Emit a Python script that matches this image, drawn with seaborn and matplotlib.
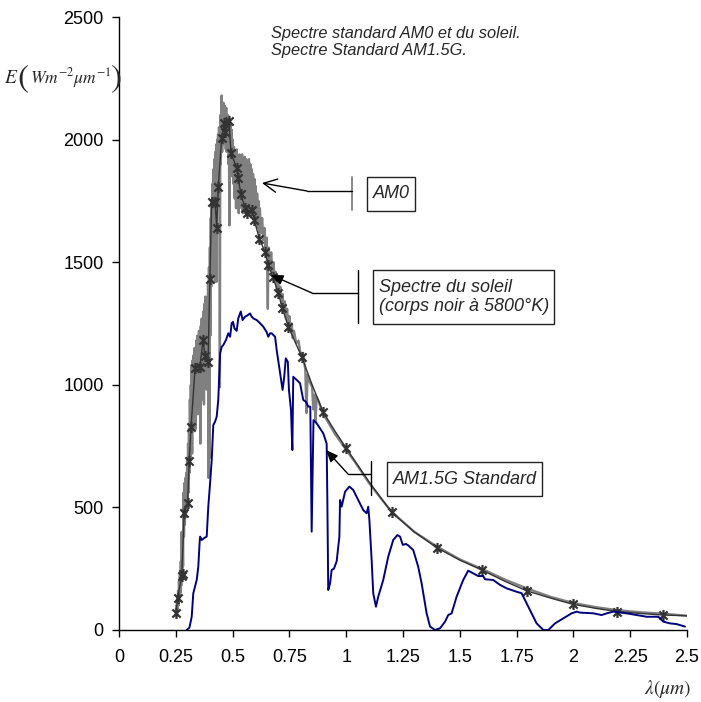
import matplotlib
matplotlib.use("Agg")
import matplotlib.pyplot as plt
import seaborn as sns
from matplotlib.path import Path
from matplotlib.patches import Rectangle, FancyArrowPatch
from matplotlib.lines import Line2D

# ---------------- data ----------------
am0_x = [0.250, 0.252, 0.254, 0.256, 0.258, 0.260, 0.262, 0.264, 0.266, 0.268,
         0.270, 0.272, 0.274, 0.276, 0.278, 0.280, 0.282, 0.284, 0.286, 0.288,
         0.290, 0.292, 0.294, 0.296, 0.298, 0.300, 0.302, 0.304, 0.306, 0.308,
         0.310, 0.312, 0.314, 0.316, 0.318, 0.320, 0.322, 0.324, 0.326, 0.328,
         0.330, 0.332, 0.334, 0.336, 0.338, 0.340, 0.342, 0.344, 0.346, 0.348,
         0.350, 0.352, 0.354, 0.356, 0.358, 0.360, 0.362, 0.364, 0.366, 0.368,
         0.370, 0.372, 0.374, 0.376, 0.378, 0.380, 0.382, 0.384, 0.386, 0.388,
         0.390, 0.392, 0.394, 0.396, 0.398, 0.400, 0.402, 0.404, 0.406, 0.408,
         0.410, 0.412, 0.414, 0.416, 0.418, 0.420, 0.422, 0.424, 0.426, 0.428,
         0.430, 0.432, 0.434, 0.436, 0.438, 0.440, 0.442, 0.444, 0.446, 0.448,
         0.450, 0.452, 0.454, 0.456, 0.458, 0.460, 0.462, 0.464, 0.466, 0.468,
         0.470, 0.472, 0.474, 0.476, 0.478, 0.480, 0.482, 0.484, 0.486, 0.488,
         0.490, 0.492, 0.494, 0.496, 0.498, 0.500, 0.503, 0.506, 0.509, 0.512,
         0.515, 0.518, 0.521, 0.524, 0.527, 0.530, 0.533, 0.536, 0.539, 0.542,
         0.545, 0.548, 0.551, 0.554, 0.557, 0.560, 0.563, 0.566, 0.569, 0.572,
         0.575, 0.578, 0.581, 0.584, 0.587, 0.590, 0.593, 0.596, 0.599, 0.602,
         0.605, 0.608, 0.611, 0.614, 0.617, 0.620, 0.625, 0.630, 0.635, 0.640,
         0.645, 0.650, 0.655, 0.658, 0.665, 0.670, 0.675, 0.680, 0.685, 0.690,
         0.695, 0.700, 0.705, 0.710, 0.715, 0.720, 0.725, 0.730, 0.735, 0.740,
         0.745, 0.750, 0.755, 0.760, 0.765, 0.770, 0.780, 0.790, 0.800, 0.810,
         0.820, 0.825, 0.830, 0.840, 0.850, 0.855, 0.860, 0.865, 0.870, 0.880,
         0.890, 0.900, 0.950, 1.000, 1.050, 1.100, 1.150, 1.200, 1.300, 1.400,
         1.500, 1.600, 1.700, 1.800, 1.900, 2.000, 2.100, 2.200, 2.300, 2.400,
         2.450, 2.500]
am0_y = [60, 100, 65, 130, 80, 160, 100, 200, 130, 230,
         150, 280, 180, 400, 220, 380, 260, 560, 380, 600,
         430, 620, 460, 640, 480, 700, 500, 760, 560, 820,
         640, 940, 700, 1000, 760, 1080, 720, 1100, 820, 1120,
         860, 1150, 900, 1120, 820, 1180, 900, 1200, 880, 1150,
         950, 1220, 880, 1200, 760, 1240, 980, 1270, 940, 1230,
         1040, 1300, 920, 1330, 1000, 1360, 1060, 1280, 980, 1300,
         1100, 1420, 620, 1480, 700, 1560, 1200, 1680, 1400, 1750,
         1450, 1820, 1550, 1880, 1600, 1920, 1420, 1950, 1650, 1980,
         1420, 2000, 1750, 2020, 1800, 2050, 1850, 990, 2100, 1900,
         2120, 2180, 1950, 2130, 1980, 2150, 1990, 2140, 2000, 2120,
         1960, 2130, 1950, 2090, 1980, 2100, 1900, 1940, 1650, 2080,
         1900, 2060, 1880, 2040, 1850, 2000, 1820, 1970, 1760, 1950,
         1720, 1960, 1780, 1930, 1700, 1940, 1760, 1930, 1720, 1940,
         1700, 1920, 1740, 1930, 1700, 1920, 1720, 1910, 1730, 1920,
         1700, 1900, 1690, 1880, 1700, 1860, 1690, 1840, 1670, 1810,
         1650, 1780, 1640, 1750, 1620, 1720, 1620, 1680, 1590, 1640,
         1560, 1600, 1310, 1560, 1500, 1540, 1460, 1500, 1430, 1460,
         1390, 1430, 1370, 1400, 1330, 1370, 1300, 1340, 1270, 1310,
         1245, 1280, 1220, 1250, 1190, 1220, 1170, 1180, 1120, 1130,
         1060, 885, 1040, 1010, 990, 900, 960, 850, 950, 930,
         900, 880, 800, 735, 670, 600, 540, 482, 400, 340,
         288, 248, 205, 168, 135, 110, 93, 80, 72, 66,
         62, 58]

sun_x = [0.251, 0.258, 0.276, 0.287, 0.302, 0.309, 0.317, 0.335, 0.356, 0.370,
         0.378, 0.392, 0.400, 0.408, 0.423, 0.430, 0.437, 0.452, 0.462, 0.467,
         0.484, 0.493, 0.518, 0.525, 0.536, 0.555, 0.562, 0.584, 0.595, 0.618,
         0.643, 0.657, 0.677, 0.701, 0.719, 0.745, 0.804, 0.850, 0.898, 0.950,
         0.999, 1.100, 1.200, 1.300, 1.398, 1.500, 1.596, 1.700, 1.794, 1.900,
         1.997, 2.100, 2.193, 2.300, 2.396, 2.500]
sun_y = [69, 131, 220, 478, 518, 690, 828, 1068, 1073, 1183,
         1117, 1093, 1431, 1747, 1747, 1641, 1808, 2007, 2068, 2032,
         2077, 1945, 1885, 1843, 1778, 1722, 1701, 1713, 1672, 1595,
         1542, 1489, 1441, 1374, 1313, 1237, 1115, 1000, 890, 812,
         743, 605, 480, 400, 336, 285, 245, 198, 160, 130,
         105, 88, 75, 67, 61, 58]

mark_x = [0.251, 0.258, 0.276, 0.280, 0.287, 0.302, 0.309, 0.317, 0.335, 0.356,
          0.370, 0.378, 0.392, 0.400, 0.408, 0.423, 0.430, 0.437, 0.452, 0.462,
          0.467, 0.484, 0.493, 0.518, 0.525, 0.536, 0.555, 0.562, 0.584, 0.595,
          0.618, 0.643, 0.657, 0.677, 0.701, 0.719, 0.745, 0.804, 0.898, 0.999,
          1.200, 1.398, 1.596, 1.794, 1.997, 2.193, 2.396]
mark_y = [69, 131, 220, 228, 478, 518, 690, 828, 1068, 1073,
          1183, 1117, 1093, 1431, 1747, 1747, 1641, 1808, 2007, 2068,
          2032, 2077, 1945, 1885, 1843, 1778, 1722, 1701, 1713, 1672,
          1595, 1542, 1489, 1441, 1374, 1313, 1237, 1115, 890, 743,
          480, 336, 245, 160, 105, 75, 61]

am15_x = [0.298, 0.310, 0.320, 0.327, 0.342, 0.349, 0.355, 0.357, 0.364, 0.375,
          0.386, 0.393, 0.401, 0.408, 0.415, 0.423, 0.430, 0.437, 0.445, 0.452,
          0.459, 0.471, 0.481, 0.489, 0.496, 0.502, 0.508, 0.518, 0.525, 0.536,
          0.544, 0.555, 0.562, 0.577, 0.584, 0.591, 0.606, 0.621, 0.635, 0.650,
          0.657, 0.665, 0.672, 0.687, 0.694, 0.709, 0.720, 0.727, 0.734, 0.743,
          0.748, 0.757, 0.763, 0.767, 0.782, 0.797, 0.811, 0.823, 0.833, 0.842,
          0.848, 0.856, 0.870, 0.899, 0.914, 0.917, 0.921, 0.929, 0.936, 0.946,
          0.958, 0.970, 0.973, 0.980, 0.995, 1.014, 1.031, 1.053, 1.075, 1.090,
          1.097, 1.102, 1.112, 1.119, 1.131, 1.141, 1.163, 1.185, 1.207, 1.225,
          1.237, 1.249, 1.263, 1.273, 1.295, 1.317, 1.332, 1.354, 1.369, 1.391,
          1.413, 1.435, 1.449, 1.464, 1.486, 1.515, 1.537, 1.559, 1.581, 1.603,
          1.611, 1.647, 1.677, 1.706, 1.750, 1.772, 1.787, 1.816, 1.838, 1.868,
          1.890, 1.919, 1.956, 1.992, 2.015, 2.029, 2.088, 2.124, 2.147, 2.176,
          2.234, 2.278, 2.323, 2.374, 2.396, 2.425, 2.455, 2.491]
am15_y = [0, 10, 54, 150, 204, 258, 360, 381, 367, 375,
          381, 503, 600, 693, 836, 850, 870, 940, 1128, 1155,
          1162, 1183, 1210, 1196, 1251, 1257, 1230, 1220, 1271, 1299,
          1264, 1278, 1281, 1291, 1278, 1271, 1264, 1251, 1237, 1215,
          1196, 1210, 1210, 1196, 1142, 1047, 979, 1030, 1108, 1094,
          979, 897, 734, 1033, 1020, 1006, 938, 931, 911, 911,
          401, 856, 843, 802, 760, 530, 163, 190, 245, 250,
          280, 381, 530, 503, 564, 585, 571, 530, 489, 476,
          503, 449, 285, 150, 95, 136, 204, 299, 367, 387,
          381, 347, 351, 345, 326, 258, 190, 68, 14, 0,
          7, 34, 61, 68, 136, 204, 242, 231, 220, 220,
          207, 204, 184, 170, 156, 150, 122, 68, 27, 0,
          0, 27, 48, 68, 75, 71, 68, 61, 68, 75,
          68, 61, 54, 54, 34, 27, 24, 14]

x_ticks = [0, 0.25, 0.5, 0.75, 1, 1.25, 1.5, 1.75, 2, 2.25, 2.5]
x_tick_labels = ["0", "0.25", "0.5", "0.75", "1", "1.25", "1.5", "1.75", "2", "2.25", "2.5"]
y_ticks = [0, 500, 1000, 1500, 2000, 2500]
y_tick_labels = ["0", "500", "1000", "1500", "2000", "2500"]

title_lines = ["Spectre standard AM0 et du soleil.", "Spectre Standard AM1.5G."]
label_am0 = "AM0"
label_sun = "Spectre du soleil\n(corps noir à 5800°K)"
label_am15 = "AM1.5G Standard"

# ---------------- styling ----------------
sns.set_theme(style="ticks")
plt.rcParams["font.family"] = ["Liberation Sans", "DejaVu Sans"]
plt.rcParams["mathtext.fontset"] = "stix"

W, H = 701, 702
fig = plt.figure(figsize=(W / 100, H / 100), dpi=100)
fig.patch.set_facecolor("white")


def fx(px):
    return px / W


def fy(py):
    return 1 - py / H


ax = fig.add_axes([fx(119), fy(630), fx(687) - fx(119), fy(17) - fy(630)])
ax.set_facecolor("white")

sns.lineplot(x=am0_x, y=am0_y, ax=ax, color="#808080", lw=1.7,
             sort=False, estimator=None)
sns.lineplot(x=sun_x, y=sun_y, ax=ax, color="#333333", lw=1.0,
             sort=False, estimator=None)
star = Path([(-1, -1), (1, 1), (-1, 1), (1, -1), (0, -1.35), (0, 1.35)],
            [Path.MOVETO, Path.LINETO, Path.MOVETO, Path.LINETO, Path.MOVETO, Path.LINETO])
sns.lineplot(x=mark_x, y=mark_y, ax=ax, linestyle="", marker=star, markersize=8,
             markerfacecolor="none", markeredgecolor="#333333", markeredgewidth=1.6,
             sort=False, estimator=None)
sns.lineplot(x=am15_x, y=am15_y, ax=ax, color="#000080", lw=1.4,
             sort=False, estimator=None)

ax.set_xlim(0, 2.5)
ax.set_ylim(0, 2500)
ax.set_xticks(x_ticks)
ax.set_xticklabels(x_tick_labels)
ax.set_yticks(y_ticks)
ax.set_yticklabels(y_tick_labels)
ax.set_xlabel("")
ax.set_ylabel("")
for s in ["top", "right"]:
    ax.spines[s].set_visible(False)
for s in ["left", "bottom"]:
    ax.spines[s].set_color("black")
    ax.spines[s].set_linewidth(1.0)
ax.tick_params(axis="both", direction="out", length=5, width=1.0, colors="black",
               labelsize=13)
ax.tick_params(axis="x", pad=9)
ax.tick_params(axis="y", pad=6)
ax.grid(False)

# ---------------- texts ----------------
fig.text(fx(271), fy(38), title_lines[0], style="italic", fontsize=11.8,
         ha="left", va="baseline")
fig.text(fx(271), fy(55), title_lines[1], style="italic", fontsize=11.8,
         ha="left", va="baseline")

# y-axis unit label: E( W m^-2 µm^-1 ) with tall parentheses
fig.text(fx(4), fy(83), r"$E$", fontsize=14, ha="left", va="baseline")
fig.text(fx(23), fy(79), "(", family="STIXGeneral", fontsize=24,
         ha="center", va="center")
fig.text(fx(29.5), fy(83), r"$Wm^{-2}\mu m^{-1}$", fontsize=12.5,
         ha="left", va="baseline")
fig.text(fx(116), fy(79), ")", family="STIXGeneral", fontsize=24,
         ha="center", va="center")

fig.text(fx(668), fy(689), r"$\lambda\left(\mu m\right)$", fontsize=14,
         ha="center", va="center")

# ---------------- annotation boxes ----------------


def box(x0, y0, x1, y1):
    fig.add_artist(Rectangle((fx(x0), fy(y1)), fx(x1) - fx(x0), fy(y0) - fy(y1),
                             transform=fig.transFigure, fill=False,
                             edgecolor="#222222", lw=1.0))


def seg(pts, color="black", lw=1.0):
    fig.add_artist(Line2D([fx(p[0]) for p in pts], [fy(p[1]) for p in pts],
                          transform=fig.transFigure, color=color, lw=lw))


def arrow(p0, p1, style):
    fig.add_artist(FancyArrowPatch((fx(p0[0]), fy(p0[1])), (fx(p1[0]), fy(p1[1])),
                                   transform=fig.transFigure, arrowstyle=style,
                                   mutation_scale=12, color="black", lw=1.0,
                                   shrinkA=0, shrinkB=0))


# AM0
box(367, 177, 415, 211)
fig.text(fx(391), fy(194), label_am0, style="italic", fontsize=13, ha="center", va="center")
seg([(352, 177), (352, 210)], color="#808080", lw=1.3)
seg([(352, 191), (307, 191)])
arrow((307, 191), (262, 183), "->,head_length=0.8,head_width=0.4")

# Sun
box(373, 270, 554, 324)
fig.text(fx(379), fy(297), label_sun, style="italic", fontsize=13, ha="left",
         va="center", linespacing=1.15)
seg([(358, 270), (358, 323)])
seg([(358, 293), (312, 293)])
arrow((312, 293), (271, 275), "-|>,head_length=0.6,head_width=0.25")

# AM1.5G
box(387, 462, 542, 496)
fig.text(fx(465), fy(479), label_am15, style="italic", fontsize=13, ha="center", va="center")
seg([(371, 461), (371, 495)])
seg([(371, 474), (348, 474)])
arrow((348, 474), (326, 450), "-|>,head_length=0.6,head_width=0.25")

fig.savefig("out.png", dpi=100, facecolor="white")
